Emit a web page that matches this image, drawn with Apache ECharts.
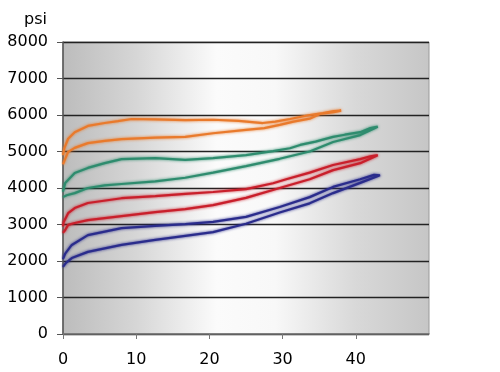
<!DOCTYPE html>
<html><head><meta charset="utf-8">
<script src="https://cdn.jsdelivr.net/npm/echarts@6/dist/echarts.min.js"></script>
<style>html,body{margin:0;padding:0;background:#fff}#c{width:500px;height:372px}</style>
</head><body><div id="c"></div>
<script>
const yTicks = [0,1000,2000,3000,4000,5000,6000,7000,8000];
const xTicks = [0,10,20,30,40];
// each curve: lower branch out, then upper branch back ([x, psi])
const orange = [[0,4650],[0.3,4800],[0.7,4990],[1.6,5100],[3.4,5230],[5.7,5290],[8,5340],[12.6,5380],[16.7,5400],[20.5,5500],[25,5590],[27.5,5640],[29.6,5730],[31.5,5820],[33.7,5900],[35.1,6030],[37,6080],[38,6120],
  [37,6110],[35.5,6050],[33.7,6000],[31,5890],[29,5820],[27.3,5780],[24,5840],[20.5,5870],[16.7,5860],[12.6,5880],[9.4,5890],[7.5,5830],[5.7,5780],[3.4,5700],[1.6,5530],[0.7,5350],[0.2,5100],[0,4900]];
const green = [[0,3750],[0.5,3800],[1.6,3860],[3.4,4000],[5.7,4070],[8,4110],[12.6,4180],[16.7,4280],[20.5,4420],[25,4600],[29.6,4800],[33.7,5000],[36.9,5260],[40.6,5450],[43,5680],
  [42,5640],[40.6,5530],[38.5,5460],[36.9,5400],[34.5,5270],[32.4,5180],[31,5090],[28.7,5010],[25,4900],[20.5,4820],[16.7,4770],[12.6,4820],[8,4790],[5.7,4680],[3.4,4550],[1.6,4410],[0.3,4140],[0,3900]];
const red = [[0,2770],[0.3,2850],[0.7,2990],[1.6,3040],[3.4,3120],[8,3230],[12.6,3340],[16.7,3420],[20.5,3530],[25,3730],[29.6,4000],[33.7,4240],[36.9,4490],[40.6,4680],[43,4900],
  [42,4870],[40.6,4790],[36.9,4630],[33.7,4420],[30.5,4240],[28.7,4130],[25,3970],[20.5,3890],[16.7,3840],[12.6,3780],[8,3720],[3.4,3590],[1.6,3450],[0.7,3310],[0.1,3070],[0,2950]];
const blue = [[0,1840],[0.4,1950],[1.2,2080],[3.4,2250],[8,2440],[12.6,2580],[16.7,2690],[20.5,2790],[25,3020],[29.6,3330],[33.7,3580],[36.9,3860],[40.6,4140],[43.3,4350],
  [42.5,4360],[40.6,4240],[36.9,4030],[33.7,3750],[29.6,3480],[25,3210],[20.5,3070],[16.7,3010],[12.6,2960],[8,2900],[3.4,2710],[1.2,2440],[0.3,2200],[0,2050]];
const seriesDefs = [
  {name:'orange', data:orange, color:'#E97A2C'},
  {name:'green', data:green, color:'#2E8C6E'},
  {name:'red', data:red, color:'#C91F2B'},
  {name:'blue', data:blue, color:'#2A2C8C'}
];
const FONT = 'DejaVu Sans';
const chart = echarts.init(document.getElementById('c'));
chart.setOption({
  animation:false,
  title:{text:'psi', left:19, top:7, textStyle:{fontFamily:FONT, fontSize:16, fontWeight:'normal', color:'#000'}},
  grid:{left:63, right:71, top:42, bottom:38, show:true, borderColor:'#9a9a9a', borderWidth:1,
    backgroundColor:{type:'linear', x:0, y:0, x2:1, y2:0, colorStops:[
      {offset:0, color:'#bcbcbc'},{offset:0.2, color:'#d6d6d6'},{offset:0.42, color:'#fbfbfb'},{offset:0.58, color:'#f8f8f8'},{offset:0.8, color:'#d8d8d8'},{offset:1, color:'#c6c6c6'}]}},
  xAxis:{type:'value', min:0, max:50, interval:10,
    axisLine:{show:true, onZero:false, lineStyle:{color:'#777', width:1.5}},
    axisTick:{show:true, length:5, lineStyle:{color:'#777'}},
    splitLine:{show:false},
    axisLabel:{showMaxLabel:false, margin:18, fontFamily:FONT, fontSize:16, color:'#000',
      formatter:v=>xTicks.includes(v)?String(v):''}},
  yAxis:{type:'value', min:0, max:8000, interval:1000,
    axisLine:{show:true, lineStyle:{color:'#555', width:1.5}},
    axisTick:{show:true, length:6, lineStyle:{color:'#555'}},
    splitLine:{show:true, lineStyle:{color:'#222', width:1.3}},
    axisLabel:{margin:15, fontFamily:FONT, fontSize:16, color:'#000',
      formatter:v=>yTicks.includes(v)?String(v):''}},
  series: seriesDefs.map(s=>({type:'line', name:s.name, data:s.data, showSymbol:false, symbol:'none',
    lineStyle:{color:s.color, width:2.2, shadowColor:s.color, shadowBlur:3}, itemStyle:{color:s.color}}))
});
</script></body></html>
